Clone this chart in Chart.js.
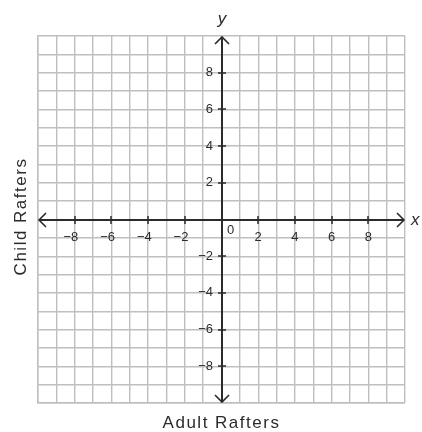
<!DOCTYPE html>
<html>
<head>
<meta charset="utf-8">
<script src="https://cdn.jsdelivr.net/npm/chart.js@4"></script>
<style>
  html, body { margin: 0; padding: 0; background: #fff; }
  #wrap { width: 422px; height: 432px; }
</style>
</head>
<body>
<div id="wrap"><canvas id="grid"></canvas></div>
<script>
// axis range and labelled ticks
const axisMin = -10;
const axisMax = 10;
const xTicks = [-8, -6, -4, -2, 2, 4, 6, 8];
const yTicks = [-8, -6, -4, -2, 2, 4, 6, 8];
const xTitle = "Adult Rafters";
const yTitle = "Child Rafters";
const points = []; // nothing plotted on the grid

const ink = "#2b2b2b";

function tickText(v) {
  return v < 0 ? "\u2212" + Math.abs(v) : String(v);
}

const axesPlugin = {
  id: "axesPlugin",
  afterDraw(chart) {
    const ctx = chart.ctx;
    const xs = chart.scales.x, ys = chart.scales.y;
    const ox = Math.round(xs.getPixelForValue(0));
    const oy = Math.round(ys.getPixelForValue(0));
    const L = xs.getPixelForValue(axisMin), R = xs.getPixelForValue(axisMax);
    const T = ys.getPixelForValue(axisMax), B = ys.getPixelForValue(axisMin);
    ctx.save();
    ctx.strokeStyle = ink;
    ctx.lineWidth = 2;
    ctx.beginPath();
    ctx.moveTo(L + 1, oy); ctx.lineTo(R - 1, oy);
    ctx.moveTo(ox, T + 1); ctx.lineTo(ox, B - 1);
    ctx.stroke();
    // arrow heads
    ctx.lineWidth = 1.6;
    const a = 7;
    ctx.beginPath();
    ctx.moveTo(R - 1 - a, oy - a); ctx.lineTo(R - 1, oy); ctx.lineTo(R - 1 - a, oy + a);
    ctx.moveTo(L + 1 + a, oy - a); ctx.lineTo(L + 1, oy); ctx.lineTo(L + 1 + a, oy + a);
    ctx.moveTo(ox - a, T + 1 + a); ctx.lineTo(ox, T + 1); ctx.lineTo(ox + a, T + 1 + a);
    ctx.moveTo(ox - a, B - 1 - a); ctx.lineTo(ox, B - 1); ctx.lineTo(ox + a, B - 1 - a);
    ctx.stroke();
    // tick marks
    ctx.lineWidth = 1.5;
    ctx.beginPath();
    xTicks.forEach(v => {
      const px = Math.round(xs.getPixelForValue(v));
      ctx.moveTo(px, oy - 4); ctx.lineTo(px, oy + 4);
    });
    yTicks.forEach(v => {
      const py = Math.round(ys.getPixelForValue(v));
      ctx.moveTo(ox - 4, py); ctx.lineTo(ox + 4, py);
    });
    ctx.stroke();
    // tick labels
    ctx.font = "13px 'Liberation Sans', Arial, sans-serif";
    ctx.fillStyle = ink;
    ctx.textBaseline = "middle";
    ctx.textAlign = "right";
    const digitHalf = ctx.measureText("8").width / 2;
    xTicks.forEach(v => {
      ctx.fillText(tickText(v), xs.getPixelForValue(v) + digitHalf, oy + 17);
    });
    yTicks.forEach(v => {
      ctx.fillText(tickText(v), ox - 9, ys.getPixelForValue(v));
    });
    ctx.textAlign = "left";
    ctx.fillText("0", ox + 5, oy + 10);
    // axis letters
    ctx.font = "italic 17px 'Liberation Sans', Arial, sans-serif";
    ctx.textAlign = "center";
    ctx.textBaseline = "alphabetic";
    ctx.fillText("y", ox, T - 12);
    ctx.textAlign = "left";
    ctx.textBaseline = "middle";
    ctx.fillText("x", R + 6, oy);
    // titles
    ctx.font = "17px 'Liberation Sans', Arial, sans-serif";
    ctx.letterSpacing = "1.5px";
    ctx.textAlign = "center";
    ctx.textBaseline = "alphabetic";
    ctx.fillText(xTitle, (L + R) / 2, 428);
    ctx.translate(26, (T + B) / 2 - 3);
    ctx.rotate(-Math.PI / 2);
    ctx.fillText(yTitle, 0, 0);
    ctx.restore();
  }
};

new Chart(document.getElementById("grid"), {
  type: "scatter",
  data: { datasets: [{ data: points }] },
  options: {
    responsive: true,
    maintainAspectRatio: false,
    animation: false,
    layout: { padding: { left: 38, right: 17, top: 36, bottom: 29 } },
    plugins: { legend: { display: false }, tooltip: { enabled: false } },
    scales: {
      x: {
        type: "linear", min: axisMin, max: axisMax,
        ticks: { stepSize: 1, display: false },
        grid: { color: "#bfbfbf", lineWidth: 1.4, drawTicks: false },
        border: { display: true, color: "#bfbfbf", width: 1.4 }
      },
      y: {
        type: "linear", min: axisMin, max: axisMax,
        ticks: { stepSize: 1, display: false },
        grid: { color: "#bfbfbf", lineWidth: 1.4, drawTicks: false },
        border: { display: true, color: "#bfbfbf", width: 1.4 }
      }
    }
  },
  plugins: [axesPlugin]
});
</script>
</body>
</html>
